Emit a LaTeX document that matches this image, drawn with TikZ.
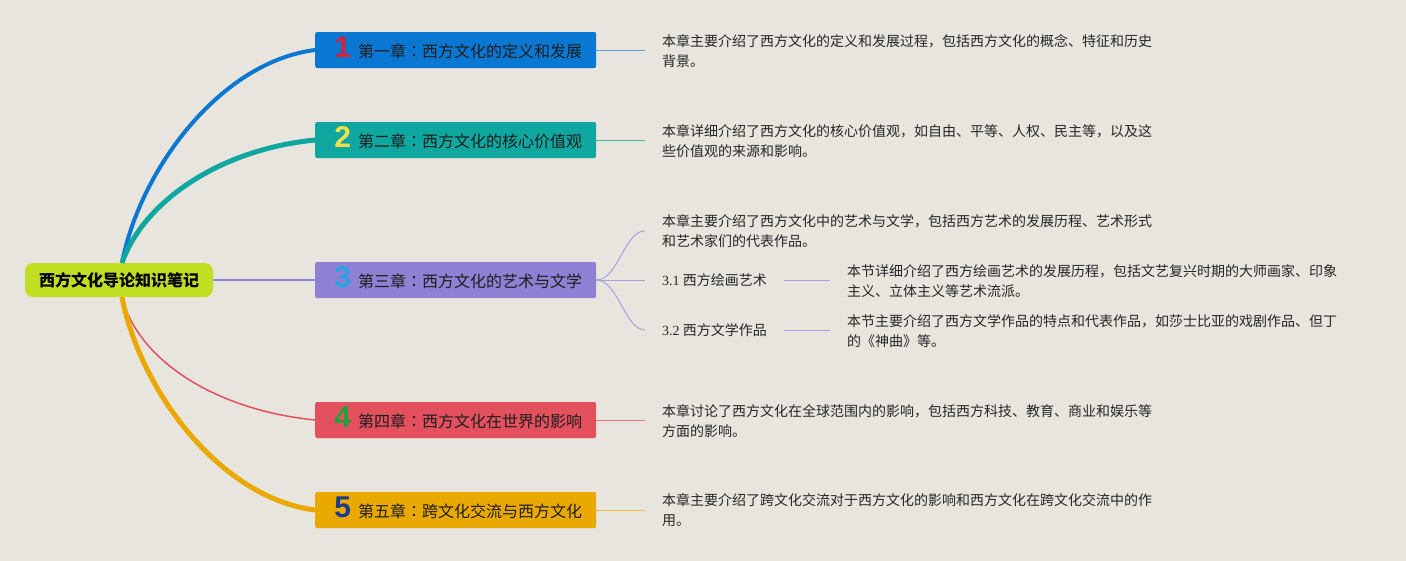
\documentclass[tikz,border=0pt]{standalone}
\usepackage{fontspec}
\setmainfont{Noto Sans CJK SC}
\newfontfamily\numfont{Liberation Sans}
\newfontfamily\latinserif{Liberation Serif}
\newfontfamily\jpfont{Noto Sans CJK JP}
\definecolor{bgc}{HTML}{E8E5DE}
\definecolor{rootc}{HTML}{C2DE22}
\definecolor{cA}{HTML}{0A78D2}
\definecolor{cB}{HTML}{0FA7A0}
\definecolor{cC}{HTML}{8E80D2}
\definecolor{cD}{HTML}{E3505E}
\definecolor{cE}{HTML}{E9A900}
\definecolor{lA}{HTML}{5C9ED8}
\definecolor{lB}{HTML}{45B5AE}
\definecolor{lC}{HTML}{A9A0DC}
\definecolor{lD}{HTML}{E77482}
\definecolor{lE}{HTML}{EDBC45}
\definecolor{nA}{HTML}{D2233C}
\definecolor{nB}{HTML}{F2DF4A}
\definecolor{nC}{HTML}{2AA3E6}
\definecolor{nD}{HTML}{22A03A}
\definecolor{nE}{HTML}{1E3A8C}
\definecolor{chtext}{HTML}{1E1E1E}
\definecolor{desctext}{HTML}{262626}
\newcommand\chtitle[3]{\mbox{\rule[-5pt]{0pt}{5pt}\hspace*{5pt}\makebox[17pt]{\numfont\bfseries\fontsize{30}{30}\selectfont\color{#1}#2}\hspace{7pt}#3}}
\newcommand\cln{{\jpfont ：}}
\begin{document}
\begin{tikzpicture}[x=1pt,y=-1pt,
  rootbox/.style={fill=rootc, rounded corners=8pt, minimum width=188pt, minimum height=34pt, inner sep=0pt, font=\fontsize{16}{18}\selectfont\bfseries, text=black},
  chapbox/.style={rounded corners=2pt, minimum height=36pt, text width=253pt, inner xsep=14pt, inner ysep=0pt, align=left, anchor=west, font=\fontsize{16}{18}\selectfont, text=chtext},
  desc/.style={anchor=west, inner xsep=17pt, inner ysep=0pt, align=left, font=\fontsize{14}{20}\selectfont, text=desctext},
  sub/.style={line width=1pt}
]
\useasboundingbox (0,0) rectangle (1406,560);
\fill[bgc] (-5,-5) rectangle (1411,565);

\node[rootbox] (root) at (119,280) {西方文化导论知识笔记};

\node[chapbox, fill=cA] (c1) at (315,50) {\chtitle{nA}{1}{第一章\cln 西方文化的定义和发展}};
\node[chapbox, fill=cB] (c2) at (315,140) {\chtitle{nB}{2}{第二章\cln 西方文化的核心价值观}};
\node[chapbox, fill=cC] (c3) at (315,280) {\chtitle{nC}{3}{第三章\cln 西方文化的艺术与文学}};
\node[chapbox, fill=cD] (c4) at (315,420) {\chtitle{nD}{4}{第四章\cln 西方文化在世界的影响}};
\node[chapbox, fill=cE] (c5) at (315,510) {\chtitle{nE}{5}{第五章\cln 跨文化交流与西方文化}};

\node[desc] (d1) at (645,51) {本章主要介绍了西方文化的定义和发展过程，包括西方文化的概念、特征和历史\\背景。};
\node[desc] (d2) at (645,141) {本章详细介绍了西方文化的核心价值观，如自由、平等、人权、民主等，以及这\\些价值观的来源和影响。};
\node[desc] (d3) at (645,231) {本章主要介绍了西方文化中的艺术与文学，包括西方艺术的发展历程、艺术形式\\和艺术家们的代表作品。};
\node[desc] (s31) at (645,280) {{\latinserif 3.1} 西方绘画艺术};
\node[desc] (s32) at (645,330) {{\latinserif 3.2} 西方文学作品};
\node[desc] (p31) at (830,281) {本节详细介绍了西方绘画艺术的发展历程，包括文艺复兴时期的大师画家、印象\\主义、立体主义等艺术流派。};
\node[desc] (p32) at (830,331) {本节主要介绍了西方文学作品的特点和代表作品，如莎士比亚的戏剧作品、但丁\\的《神曲》等。};
\node[desc] (d4) at (645,421) {本章讨论了西方文化在全球范围内的影响，包括西方科技、教育、商业和娱乐等\\方面的影响。};
\node[desc] (d5) at (645,510) {本章主要介绍了跨文化交流对于西方文化的影响和西方文化在跨文化交流中的作\\用。};

% root connectors
\draw[line width=4pt, cA] ([xshift=3pt]root.north) .. controls (140,170) and (220,62) .. (c1.west);
\draw[line width=5pt, cB] ([xshift=3pt]root.north) .. controls (142,205) and (215,150) .. (c2.west);
\draw[line width=2.5pt, cC] (root.east) -- (c3.west);
\draw[line width=1.5pt, cD] ([xshift=3pt]root.south) .. controls (138,360) and (215,410) .. (c4.west);
\draw[line width=5pt, cE] ([xshift=3pt]root.south) .. controls (140,390) and (220,498) .. (c5.west);

% chapter connectors
\draw[sub, lA] (c1.east) -- (c1.east -| d1.west);
\draw[sub, lB] (c2.east) -- (c2.east -| d2.west);
\draw[sub, lC] (c3.east) .. controls (618,280) and (625,230) .. (d3.west);
\draw[sub, lC] (c3.east) -- (s31.west);
\draw[sub, lC] (c3.east) .. controls (618,280) and (625,330) .. (s32.west);
\draw[sub, lC] (s31.east) -- (p31.west |- s31.east);
\draw[sub, lC] (s32.east) -- (p32.west |- s32.east);
\draw[sub, lD] (c4.east) -- (c4.east -| d4.west);
\draw[sub, lE] (c5.east) -- (c5.east -| d5.west);
\end{tikzpicture}
\end{document}
